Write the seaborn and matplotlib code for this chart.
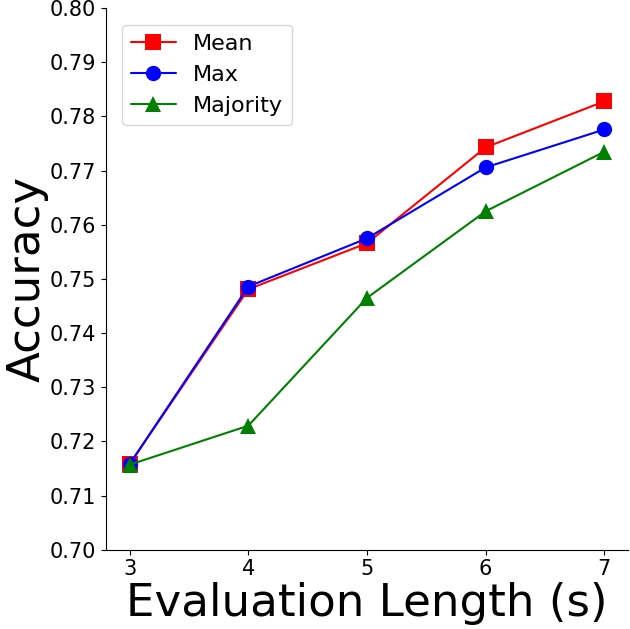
import matplotlib
matplotlib.use("Agg")
import matplotlib.pyplot as plt
import seaborn as sns

# Evaluation length (s) vs accuracy for three aggregation methods
lengths = [3, 4, 5, 6, 7]
mean_acc = [0.7158, 0.7481, 0.7566, 0.7743, 0.7828]
max_acc = [0.7158, 0.7486, 0.7575, 0.7706, 0.7776]
majority_acc = [0.7157, 0.7229, 0.7465, 0.7625, 0.7735]

series = [
    ("Mean", mean_acc, "red", "s"),
    ("Max", max_acc, "blue", "o"),
    ("Majority", majority_acc, "green", "^"),
]

sns.set_style("ticks")
plt.rcParams['font.family'] = ['DejaVu Sans']
plt.rcParams['text.color'] = 'black'
plt.rcParams['axes.labelcolor'] = 'black'
plt.rcParams['xtick.color'] = 'black'
plt.rcParams['ytick.color'] = 'black'
plt.rcParams['axes.edgecolor'] = 'black'

fig, ax = plt.subplots(figsize=(6.3, 6.29), dpi=100)
fig.subplots_adjust(left=0.168, right=0.997, bottom=0.126, top=0.987)

for name, vals, color, marker in series:
    sns.lineplot(x=lengths, y=vals, ax=ax, color=color, marker=marker,
                 markersize=11, markeredgewidth=0, linewidth=1.5, label=name)

ax.set_ylim(0.70, 0.80)
ax.set_yticks([0.70 + 0.01 * i for i in range(11)])
ax.set_yticklabels([f"{0.70 + 0.01 * i:.2f}" for i in range(11)])
ax.set_xticks(lengths)
ax.tick_params(labelsize=15, colors='black')
ax.set_xlabel("Evaluation Length (s)", fontsize=32.5, labelpad=2)
ax.set_ylabel("Accuracy", fontsize=32.5, labelpad=1)
sns.despine(ax=ax)
ax.legend(loc="upper left", fontsize=16, bbox_to_anchor=(0.01, 0.99))

plt.savefig("out.png", dpi=100)
